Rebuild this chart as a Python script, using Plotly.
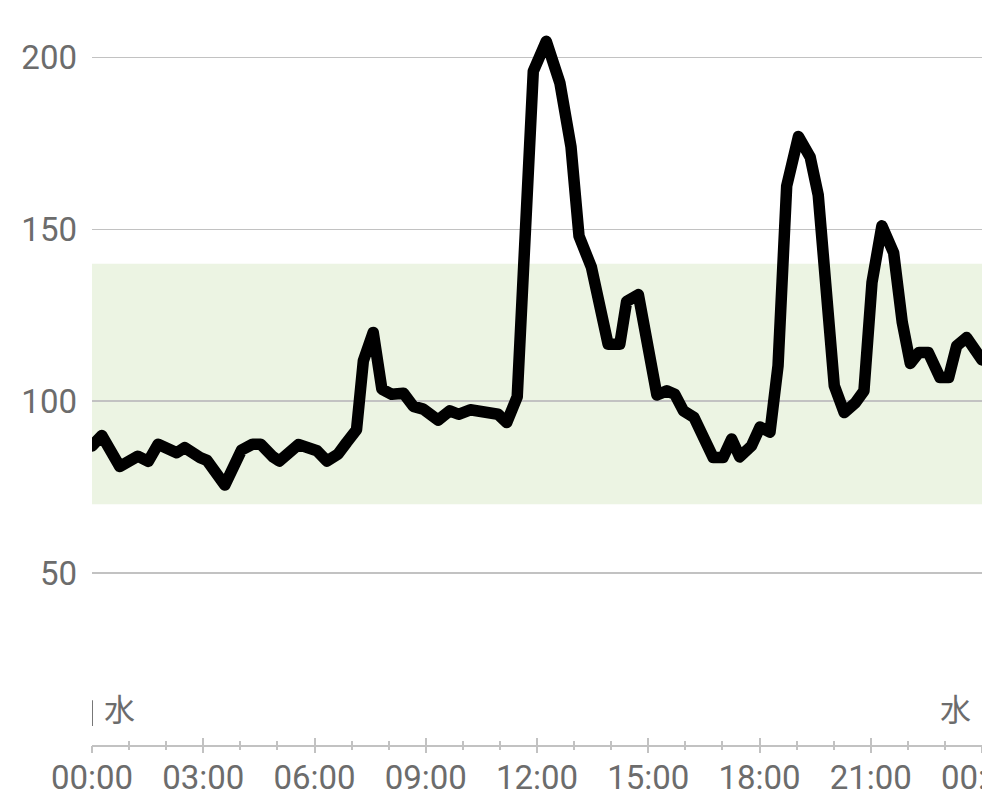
import plotly.graph_objects as go

# Glucose readings (time of day, mg/dL)
times = ["00:00", "00:16", "00:45", "01:14", "01:31", "01:47", "02:17", "02:30", "02:55", "03:06",
         "03:35", "04:02", "04:20", "04:33", "04:53", "05:03", "05:34", "06:04", "06:20", "06:38",
         "06:52", "07:08", "07:19", "07:35", "07:49", "08:05", "08:24", "08:40", "08:56", "09:20",
         "09:39", "09:53", "10:12", "10:28", "10:41", "10:57", "11:11", "11:28", "11:54", "12:15",
         "12:37", "12:55", "13:08", "13:28", "13:55", "14:14", "14:25", "14:44", "15:14", "15:30",
         "15:43", "15:57", "16:14", "16:45", "17:01", "17:15", "17:28", "17:47", "18:01", "18:17",
         "18:30", "18:44", "19:03", "19:22", "19:35", "20:01", "20:17", "20:35", "20:49", "21:02",
         "21:18", "21:37", "21:51", "22:04", "22:18", "22:33", "22:52", "23:06", "23:19", "23:35",
         "24:00"]
glucose = [87, 90, 81, 84, 82.5, 87.5, 85, 86.5, 83.6, 82.8,
           75.6, 85.8, 87.5, 87.5, 83.8, 82.6, 87.4, 85.6, 82.6, 84.6,
           88, 91.7, 111.7, 120, 103.5, 102, 102.3, 98.5, 97.7, 94.5,
           97.2, 96.2, 97.5, 97.2, 96.2, 96.2, 93.8, 101.3, 196, 204.7,
           192.6, 174, 148, 139, 116.6, 116.6, 129, 131, 101.8, 103,
           102, 97.2, 95.3, 83.6, 83.6, 89, 83.8, 87, 92.5, 91,
           110.3, 162.6, 177, 171, 160, 104.5, 96.7, 99.5, 103, 134.5,
           151, 143.2, 122.9, 111, 114.2, 114.2, 106.9, 106.9, 116.1, 118.5,
           112]

target_low, target_high = 70, 140
y_ticks = [50, 100, 150, 200]
x_tickvals = [0, 3, 6, 9, 12, 15, 18, 21, 24]
x_ticktext = ["00:00", "03:00", "06:00", "09:00", "12:00", "15:00", "18:00", "21:00", "00:00"]
day_label = "水"

hours = [int(t.split(":")[0]) + int(t.split(":")[1]) / 60 for t in times]

FONT = "Roboto"
GREY_TXT = "#6c6c6c"
GRID = "#c2c2c2"

fig = go.Figure()
fig.add_trace(go.Scatter(x=hours, y=glucose, mode="lines",
                         line=dict(color="#000000", width=11.5),
                         hoverinfo="skip", showlegend=False))
# empty traces carrying the secondary axes that draw inside / outside ticks
fig.add_trace(go.Scatter(x=[], y=[], xaxis="x2", yaxis="y", showlegend=False))
fig.add_trace(go.Scatter(x=[], y=[], xaxis="x3", yaxis="y", showlegend=False))

fig.add_shape(type="rect", xref="paper", x0=0, x1=1, yref="y",
              y0=target_low, y1=target_high, fillcolor="#ecf4e3",
              line=dict(width=0), layer="below")
fig.add_shape(type="line", xref="x", x0=0, x1=0, yref="y", y0=5.5, y1=13,
              line=dict(color="#777777", width=2))

fig.add_annotation(x=0, y=10.8, xref="x", yref="y", text=day_label, showarrow=False,
                   xanchor="left", yanchor="middle", xshift=10,
                   font=dict(family="Noto Sans CJK JP", size=31, color=GREY_TXT))
fig.add_annotation(x=24, y=10.8, xref="x", yref="y", text=day_label, showarrow=False,
                   xanchor="right", yanchor="middle", xshift=-9,
                   font=dict(family="Noto Sans CJK JP", size=31, color=GREY_TXT))

axis_common = dict(range=[0, 24], showgrid=False, zeroline=False, automargin=False)
tick_axis = dict(**axis_common, overlaying="x", anchor="y", side="bottom",
                 tickmode="array", tickvals=x_tickvals, showticklabels=False, showline=False)
fig.update_layout(
    width=982, height=802,
    margin=dict(l=92, r=0, t=0, b=57, pad=0, autoexpand=False),
    paper_bgcolor="white", plot_bgcolor="white",
    showlegend=False,
    xaxis=dict(**axis_common, tickmode="array", tickvals=x_tickvals, ticktext=x_ticktext,
               showline=True, linecolor=GRID, linewidth=2, ticks="",
               tickfont=dict(family=FONT, size=33, color=GREY_TXT),
               ticklabeloverflow="allow", ticklabelstandoff=2),
    xaxis2=dict(**tick_axis, ticks="inside", ticklen=7, tickwidth=2, tickcolor=GRID,
                minor=dict(ticks="inside", dtick=1, tick0=0, ticklen=4, tickwidth=2, tickcolor=GRID)),
    xaxis3=dict(**tick_axis, ticks="outside", ticklen=7, tickwidth=2, tickcolor=GRID,
                minor=dict(ticks="outside", dtick=1, tick0=0, ticklen=4, tickwidth=2, tickcolor=GRID)),
    yaxis=dict(range=[0, 216.7], tickmode="array", tickvals=y_ticks, automargin=False,
               showgrid=True, gridcolor=GRID, gridwidth=1.5, zeroline=False,
               showline=False, ticks="",
               tickfont=dict(family=FONT, size=33, color=GREY_TXT),
               ticklabelstandoff=14),
)

fig.write_html("out.html", config={"displayModeBar": False, "staticPlot": True},
               post_script="document.documentElement.style.margin='0';"
                           "document.body.style.margin='0';document.body.style.padding='0';"
                           "document.body.style.overflow='hidden';"
                           "var s=document.createElement('style');"
                           "s.textContent='.scatterlayer .js-line{stroke-linejoin:round!important;stroke-linecap:round!important;}';"
                           "document.head.appendChild(s);")
